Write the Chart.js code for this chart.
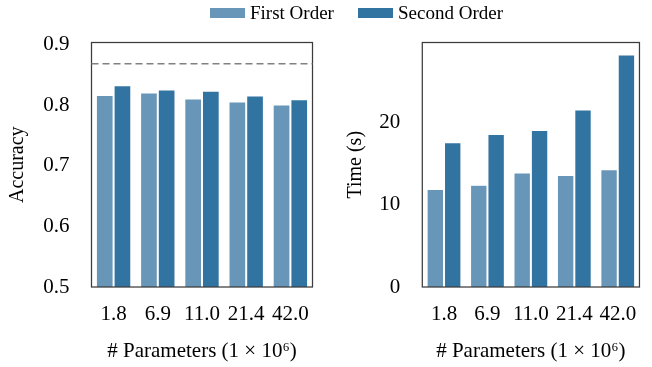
<!DOCTYPE html>
<html><head><meta charset="utf-8">
<script src="https://cdn.jsdelivr.net/npm/chart.js@4.4.0/dist/chart.umd.min.js"></script>
<style>
html,body{margin:0;padding:0;background:#fff;}
#wrap{position:relative;width:652px;height:367px;overflow:hidden;font-family:"Liberation Serif","Times New Roman",serif;}
#c1{position:absolute;left:0;top:0;}
#c2{position:absolute;left:326px;top:0;}
.lg{position:absolute;top:0;height:25px;display:flex;align-items:center;font-size:19px;color:#000;white-space:nowrap;}
.sw{display:inline-block;width:35px;height:10px;margin-right:5px;}
</style></head>
<body><div id="wrap">
<canvas id="c1" width="326" height="367"></canvas>
<canvas id="c2" width="326" height="367"></canvas>
<div class="lg" id="lg1" style="left:210px"><span class="sw" style="background:#6896b8"></span><span id="lt1"></span></div>
<div class="lg" id="lg2" style="left:358px"><span class="sw" style="background:#3274a1"></span><span id="lt2"></span></div>
</div>
<script>
// ---- data ----
const categories = ["1.8", "6.9", "11.0", "21.4", "42.0"];
const seriesNames = ["First Order", "Second Order"];
const accuracyFirst = [0.816, 0.820, 0.810, 0.805, 0.800];
const accuracySecond = [0.832, 0.825, 0.823, 0.815, 0.809];
const accuracyReference = 0.868;
const timeFirst = [11.9, 12.4, 13.9, 13.6, 14.3];
const timeSecond = [17.6, 18.6, 19.1, 21.6, 28.3];
const accuracyTicks = [0.5, 0.6, 0.7, 0.8, 0.9];
const timeTicks = [0, 10, 20];
const xTitle = "# Parameters (1 × 10⁶)";

// ---- style ----
const F = "'Liberation Serif', 'Times New Roman', serif";
const colors = ["#6896b8", "#3274a1"];
document.getElementById('lt1').textContent = seriesNames[0];
document.getElementById('lt2').textContent = seriesNames[1];

const framePlugin = {
  id: 'frame',
  afterDatasetsDraw(chart) {
    const {ctx, chartArea: a} = chart;
    ctx.save();
    ctx.strokeStyle = '#3c3c3c';
    ctx.lineWidth = 1.25;
    ctx.strokeRect(a.left, a.top, a.right - a.left, a.bottom - a.top);
    ctx.restore();
  }
};
const refLinePlugin = {
  id: 'refLine',
  afterDatasetsDraw(chart, args, opts) {
    if (opts == null || opts.value == null) return;
    const {ctx, chartArea: a} = chart;
    const y = chart.scales.y.getPixelForValue(opts.value);
    ctx.save();
    ctx.strokeStyle = '#808080';
    ctx.lineWidth = 1.5;
    ctx.setLineDash([7, 4]);
    ctx.beginPath();
    ctx.moveTo(a.left, y);
    ctx.lineTo(a.right, y);
    ctx.stroke();
    ctx.restore();
  }
};

function makeChart(id, first, second, yMin, yMax, ticks, yTitle, opt) {
  return new Chart(document.getElementById(id), {
    type: 'bar',
    data: {
      labels: categories,
      datasets: [
        {label: seriesNames[0], data: first, backgroundColor: colors[0], borderColor: '#ffffff', borderWidth: {left: 1, right: 1, top: 0.6, bottom: 0}, categoryPercentage: 0.8, barPercentage: 1.0},
        {label: seriesNames[1], data: second, backgroundColor: colors[1], borderColor: '#ffffff', borderWidth: {left: 1, right: 1, top: 0.6, bottom: 0}, categoryPercentage: 0.8, barPercentage: 1.0}
      ]
    },
    options: {
      responsive: false,
      animation: false,
      devicePixelRatio: 1,
      layout: {padding: {left: 0, right: opt.padRight, top: 42.5, bottom: 0}},
      plugins: {
        legend: {display: false},
        tooltip: {enabled: false},
        refLine: {value: opt.ref}
      },
      scales: {
        x: {
          grid: {display: false, drawTicks: false},
          border: {display: false},
          ticks: {font: {family: F, size: 21}, color: '#000', padding: 15, maxRotation: 0, autoSkip: false},
          title: {display: true, text: xTitle, font: {family: F, size: 21}, color: '#000', padding: {top: 0, bottom: 3}},
          afterFit(s) { s.height = 80; }
        },
        y: {
          min: yMin, max: yMax,
          grid: {display: false, drawTicks: false},
          border: {display: false},
          afterBuildTicks(s) { s.ticks = ticks.map(v => ({value: v})); },
          ticks: {font: {family: F, size: 21}, color: '#000', padding: 22,
            callback: v => opt.decimals ? Number(v).toFixed(1) : String(v)},
          title: {display: true, text: yTitle, font: {family: F, size: 20}, color: '#000', padding: {top: opt.titlePad, bottom: 0}},
          afterFit(s) { s.width = opt.axisW; }
        }
      }
    },
    plugins: [framePlugin, refLinePlugin]
  });
}

makeChart('c1', accuracyFirst, accuracySecond, 0.5, 0.903, accuracyTicks, 'Accuracy',
  {padRight: 13.5, ref: accuracyReference, decimals: true, titlePad: 6, axisW: 91.5});
makeChart('c2', timeFirst, timeSecond, 0, 29.8, timeTicks, 'Time (s)',
  {padRight: 8.7, ref: null, decimals: false, titlePad: 18, axisW: 96.3});
</script>
</body></html>
